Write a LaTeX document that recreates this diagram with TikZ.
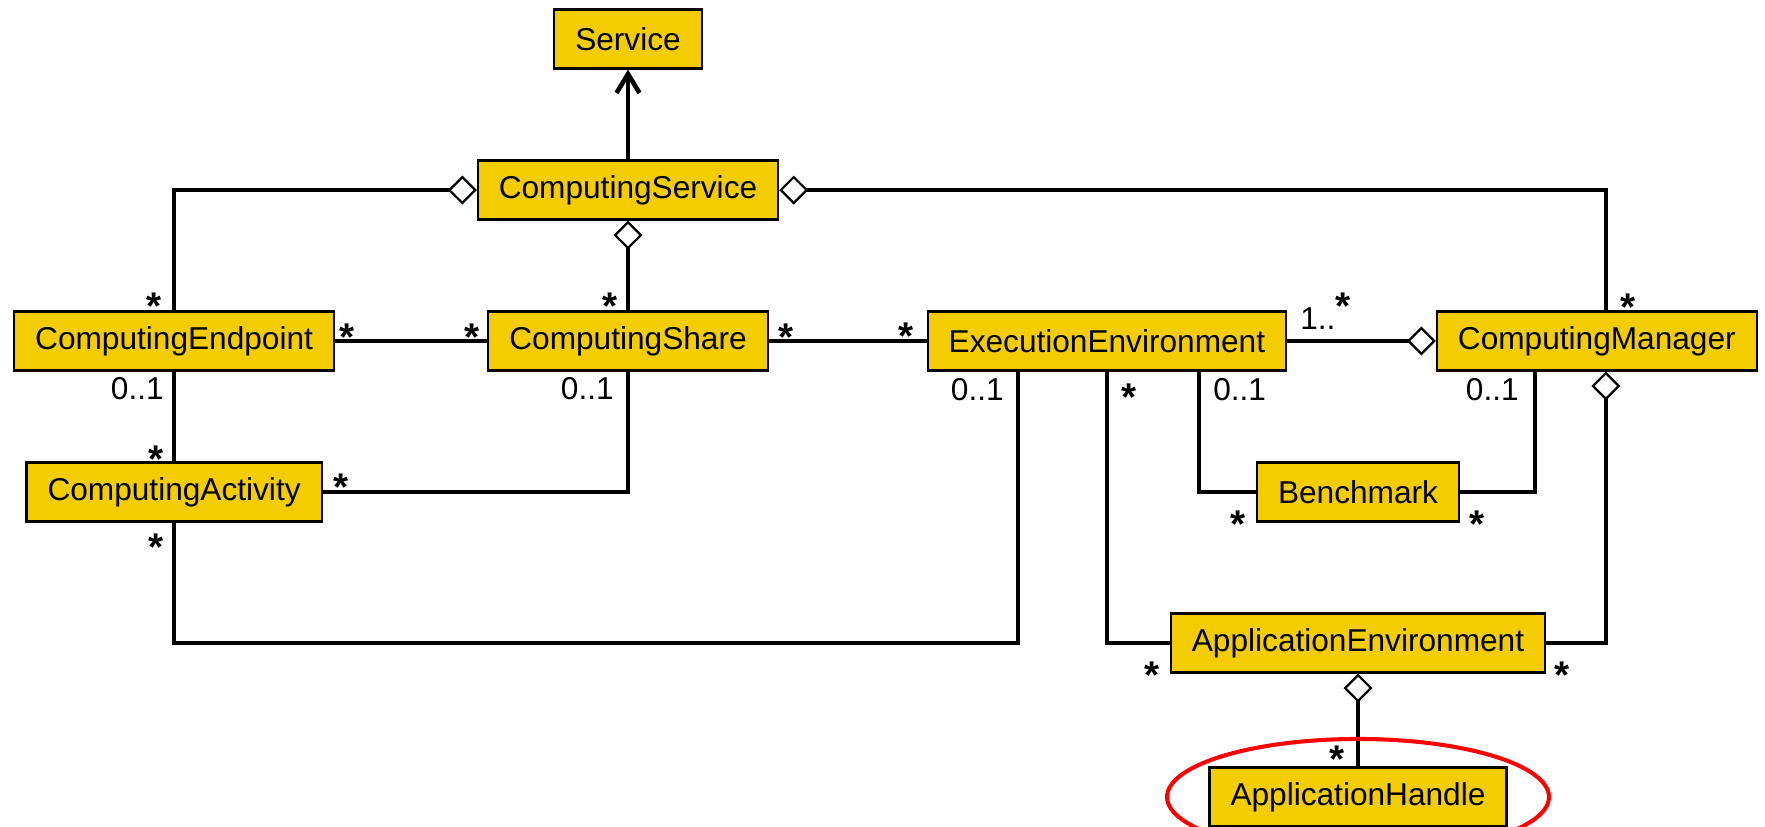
\documentclass[tikz,border=0pt]{standalone}
\usepackage{fontspec}
\setmainfont{Liberation Sans}
\usetikzlibrary{arrows.meta}
\definecolor{classgold}{RGB}{243,205,0}
\newcommand{\mstar}{\raisebox{-0.4em}[0.33em][0pt]{*}}

\begin{document}
\begin{tikzpicture}[x=0.02cm,y=-0.02cm,node distance=3.02cm,
	font=\fontsize{18}{20}\selectfont,line width=2.6pt,
	class node/.style = {rectangle,draw,fill=classgold,line width=1.2pt,inner xsep=0.42cm,inner ysep=0pt,minimum height=1.18cm},
	mult/.style = {inner sep=0pt},
	star/.style = {inner sep=0pt,font=\fontsize{22}{22}\selectfont\bfseries},
	agg/.style = {{Diamond[fill=white,length=0.58cm,width=0.58cm,line width=1.3pt]}-},
	gen/.style = {-{Straight Barb[length=0.38cm,width=0.46cm]}}]
	\useasboundingbox (0,0) rectangle (1765,826);

	\node[class node] (cs) at (628,190) {ComputingService};
	\node[class node] [above of = cs] (svc) {Service};
	\node[class node] [below of = cs] (share) {ComputingShare};
	\node[class node] [node distance=9.08cm,left of = share] (ce) {ComputingEndpoint};
	\node[class node] [below of = ce] (ca) {ComputingActivity};
	\node[class node] [node distance=9.58cm,right of = share] (ee) {ExecutionEnvironment};
	\node[class node] [node distance=9.8cm,right of = ee] (cm) {ComputingManager};
	\node[class node] (bench) at (1358,492) {Benchmark};
	\node[class node] [below of = bench] (ae) {ApplicationEnvironment};
	\node[class node] [node distance=3.08cm,below of = ae] (ah) {ApplicationHandle};

	\coordinate (eeA) at ([xshift=-1.78cm]ee.south);
	\coordinate (eeB) at ([xshift=1.84cm]ee.south);
	\coordinate (cmA) at ([xshift=-1.24cm]cm.south);
	\coordinate (cmB) at ([xshift=0.18cm]cm.south);
	\coordinate (cmT) at ([xshift=0.18cm]cm.north);

	\draw[gen] (cs) -- (svc);
	\draw[agg] (cs.west) -| (ce);
	\draw[agg] (cs.east) -| (cmT);
	\draw[agg] (cs) -- (share);
	\draw (ce) -- (share);
	\draw (share) -- (ee);
	\draw[agg] (cm) -- (ee);
	\draw (ce) -- (ca);
	\draw (ca) -| (share);
	\draw (ca) -- (ca |- ae) -- (eeA |- ae) -- (eeA);
	\draw (ee) |- (ae);
	\draw (eeB) |- (bench);
	\draw (bench) -| (cmA);
	\draw[agg] (cmB) |- (ae);
	\draw[agg] (ae) -- (ah);

	% multiplicities
	\node[star] (s1) at (154,298) {\mstar};
	\node[star] (s2) at (610,298) {\mstar};
	\node[star] (s3) at (347,329) {\mstar};
	\node[star] (s4) at (472,329) {\mstar};
	\node[star] (s5) at (786,329) {\mstar};
	\node[star] (s6) at (906,328) {\mstar};
	\node[star] (s7) at (1628,299) {\mstar};
	\node[star] (s8) at (156,451) {\mstar};
	\node[star] (s9) at (341,479) {\mstar};
	\node[star] (s10) at (156,539) {\mstar};
	\node[star] (s11) at (1129,389) {\mstar};
	\node[star] (s12) at (1238,516) {\mstar};
	\node[star] (s13) at (1477,516) {\mstar};
	\node[star] (s14) at (1152,667) {\mstar};
	\node[star] (s15) at (1562,667) {\mstar};
	\node[star] (s16) at (1337,751) {\mstar};
	\node[mult,anchor=south east] (o1) at (166,402) {0..1};
	\node[mult,anchor=south east] (o2) at (616,402) {0..1};
	\node[mult,anchor=south east] (o3) at (1006,403) {0..1};
	\node[mult,anchor=south west] (o4) at (1211,403) {0..1};
	\node[mult,anchor=south east] (o5) at (1521,403) {0..1};
	\node[mult,anchor=south west] (r1) at (1298,332) {1..\raisebox{0.2cm}{\fontsize{22}{22}\selectfont\bfseries *}};

	\draw[red,line width=2.3pt] (ah) ellipse [x radius=3.82cm,y radius=1.16cm];
\end{tikzpicture}
\end{document}
